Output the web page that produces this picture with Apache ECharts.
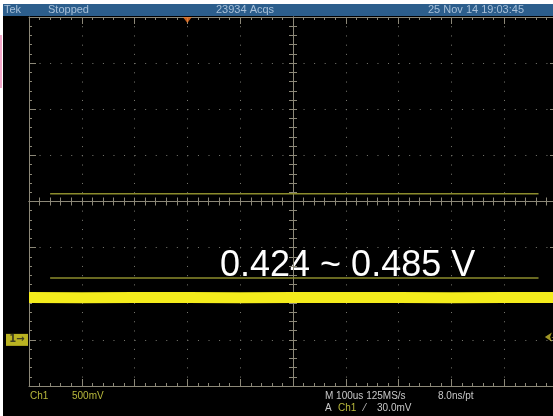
<!DOCTYPE html>
<html>
<head>
<meta charset="UTF-8">
<script src="https://cdn.jsdelivr.net/npm/echarts@6/dist/echarts.min.js"></script>
<style>
  html, body { margin: 0; padding: 0; background: #fff; }
  #main { width: 553px; height: 416px; }
</style>
</head>
<body>
<div id="main"></div>
<script>
// time axis in us (100us/div), trigger at 0
var timeTicks = [-300, 700, 100];
// volts axis (500mV/div), ground at 0
var voltTicks = [-0.5, 3.5, 0.5];

var traceTime = [-300, -200, -100, 0, 100, 200, 300, 400, 500, 600, 700];
var traceVolt = [0.458, 0.457, 0.458, 0.458, 0.457, 0.458, 0.458, 0.458, 0.457, 0.458, 0.458];

// horizontal bar cursors
var cursorA = 1.583;
var cursorB = 0.672;
var cursorStart = -260;
var cursorEnd = 665;

var triggerLevel = 0.03;
var annotation = '0.424 ~ 0.485 V';

var frameColor = '#8c8878';
var dotColor = '#7a7a72';

var myChart = echarts.init(document.getElementById('main'));

function frameAxis(pos, inside, split, dash) {
    return {
        type: 'value', position: pos,
        axisLine: { show: true, onZero: false, lineStyle: { color: frameColor, width: 1 } },
        axisTick: { show: true, inside: inside, length: 7, lineStyle: { color: frameColor } },
        minorTick: { show: true, splitNumber: 5, length: 3, lineStyle: { color: frameColor } },
        axisLabel: { show: false },
        splitLine: { show: split, lineStyle: { color: dotColor, width: 1, type: dash } },
        minorSplitLine: { show: false }
    };
}
function centerAxis(pos, offset) {
    return {
        type: 'value', position: pos, offset: offset,
        axisLine: { show: true, onZero: false, lineStyle: { color: frameColor, width: 1 } },
        axisTick: { show: true, inside: false, length: 4, lineStyle: { color: frameColor } },
        minorTick: { show: true, splitNumber: 5, length: 4, lineStyle: { color: frameColor } },
        axisLabel: { show: false },
        splitLine: { show: false }
    };
}

var xAxes = [
    frameAxis('bottom', true, true, [1, 8.22]),
    frameAxis('top', true, false),
    centerAxis('top', -184.5),
    centerAxis('bottom', -184.5)
];
xAxes.forEach(function (a) { a.min = timeTicks[0]; a.max = timeTicks[1]; a.interval = timeTicks[2]; });
var yAxes = [
    frameAxis('left', true, true, [1, 9.56]),
    frameAxis('right', true, false),
    centerAxis('left', -264),
    centerAxis('right', -264)
];
yAxes.forEach(function (a) { a.min = voltTicks[0]; a.max = voltTicks[1]; a.interval = voltTicks[2]; });

var traceData = traceTime.map(function (t, i) { return [t, traceVolt[i]]; });

var option = {
    backgroundColor: '#000',
    animation: false,
    grid: { left: 29, top: 17, width: 528, height: 369, containLabel: false, outerBoundsMode: 'none' },
    xAxis: xAxes,
    yAxis: yAxes,
    series: [
        {
            type: 'line', name: 'cursor a', symbol: 'none', silent: true,
            data: [[cursorStart, cursorA], [cursorEnd, cursorA]],
            lineStyle: { color: '#8c8c2c', width: 1.5 }
        },
        {
            type: 'line', name: 'cursor b', symbol: 'none', silent: true,
            data: [[cursorStart, cursorB], [cursorEnd, cursorB]],
            lineStyle: { color: '#8c8c2c', width: 1.5 }
        },
        {
            type: 'line', name: 'Ch1', symbol: 'none',
            data: traceData,
            lineStyle: { color: '#f4ec1c', width: 11 }
        },
        {
            // trigger position marker
            type: 'scatter', clip: false,
            data: [[0, voltTicks[1]]],
            symbol: 'triangle', symbolRotate: 180, symbolSize: [9, 6], symbolOffset: [0, 3],
            itemStyle: { color: '#f07828' }
        },
        {
            // ch1 ground marker
            type: 'scatter', clip: false,
            data: [[timeTicks[0], 0]],
            symbol: 'rect', symbolSize: [22, 12], symbolOffset: [-12, 0],
            itemStyle: { color: '#e8e02a' },
            label: { show: true, position: 'inside', formatter: '1\u2192',
                     color: '#222', fontSize: 10, fontFamily: 'DejaVu Sans', fontWeight: 'bold' }
        },
        {
            // trigger level marker
            type: 'scatter', clip: false,
            data: [[677, triggerLevel]],
            symbol: 'arrow', symbolRotate: 90, symbolSize: [7, 7],
            itemStyle: { color: '#c8bc30' },
            label: { show: true, position: 'right', distance: 0, formatter: '\u2014', color: '#c8bc30', fontSize: 9 }
        }
    ],
    graphic: [
        { type: 'rect', left: 0, top: 0, shape: { width: 553, height: 4 }, style: { fill: '#fff' } },
        { type: 'rect', left: 0, top: 0, shape: { width: 3, height: 416 }, style: { fill: '#fff' } },
        { type: 'rect', left: 0, top: 35, shape: { width: 2, height: 53 }, style: { fill: '#f2a8c8' } },
        { type: 'rect', left: 3, top: 4, shape: { width: 550, height: 12 }, style: { fill: '#2c5e8c' } },
        { type: 'text', left: 4, top: 4, style: { text: 'Tek', fill: '#a8c0d8', font: '11px "Liberation Sans"' } },
        { type: 'text', left: 48, top: 4, style: { text: 'Stopped', fill: '#a8c0d8', font: '11px "Liberation Sans"' } },
        { type: 'text', left: 216, top: 4, style: { text: '23934 Acqs', fill: '#a8c0d8', font: '11px "Liberation Sans"' } },
        { type: 'text', left: 428, top: 4, style: { text: '25 Nov 14 19:03:45', fill: '#a8c0d8', font: '11px "Liberation Sans"' } },
        { type: 'text', left: 30, top: 391, style: { text: 'Ch1', fill: '#b8b83c', font: '10px "Liberation Sans"' } },
        { type: 'text', left: 72, top: 391, style: { text: '500mV', fill: '#b8b83c', font: '10px "Liberation Sans"' } },
        { type: 'text', left: 325, top: 391, style: { text: 'M 100us 125MS/s', fill: '#c8c8c8', font: '10px "Liberation Sans"' } },
        { type: 'text', left: 438, top: 391, style: { text: '8.0ns/pt', fill: '#c8c8c8', font: '10px "Liberation Sans"' } },
        { type: 'text', left: 325, top: 403, style: { text: 'A', fill: '#c8c8c8', font: '10px "Liberation Sans"' } },
        { type: 'text', left: 338, top: 403, style: { text: 'Ch1', fill: '#b8b83c', font: '10px "Liberation Sans"' } },
        { type: 'text', left: 364, top: 403, style: { text: '\u2044', fill: '#c8c8c8', font: '10px "Liberation Sans"' } },
        { type: 'text', left: 377, top: 403, style: { text: '30.0mV', fill: '#c8c8c8', font: '10px "Liberation Sans"' } },
        { type: 'text', left: 220, top: 248, style: { text: annotation, fill: '#ffffff', font: '36px "Liberation Sans"' } }
    ]
};

myChart.setOption(option);
</script>
</body>
</html>
